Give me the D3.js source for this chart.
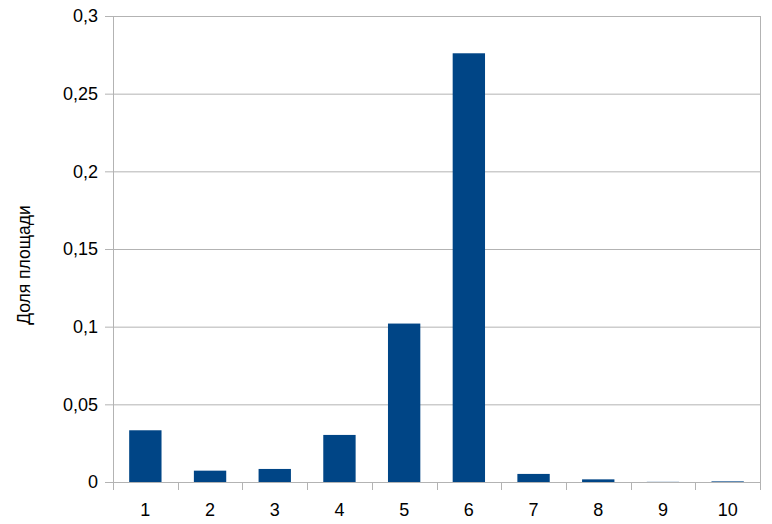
<!DOCTYPE html>
<html><head><meta charset="utf-8">
<script src="https://cdn.jsdelivr.net/npm/d3@7"></script>
<style>body{margin:0;background:#fff}svg{display:block}</style>
</head><body>
<svg id="c" width="772" height="524"></svg>
<script>
const categories = ["1","2","3","4","5","6","7","8","9","10"];
const values = [0.0333, 0.0073, 0.0084, 0.0303, 0.102, 0.276, 0.0052, 0.0017, 0.0001, 0.0004];
const yTicks = [0, 0.05, 0.1, 0.15, 0.2, 0.25, 0.3];
const yTitle = "Доля площади";

const svg = d3.select("#c");
const L = 113, R = 760, T = 16, B = 482;
const x = d3.scaleBand().domain(categories).range([L, R]).paddingInner(0.5).paddingOuter(0.25);
const y = d3.scaleLinear().domain([0, 0.3]).range([B, T]);
const fmt = d => String(d).replace(".", ",");
const grid = "#b3b3b3";
const font = "Liberation Sans, Arial, sans-serif";

// gridlines
svg.append("g").selectAll("line").data(yTicks).join("line")
  .attr("x1", L - 8).attr("x2", R).attr("y1", d => y(d) + 0.5).attr("y2", d => y(d) + 0.5)
  .attr("stroke", grid).attr("stroke-width", 1);
// left & right vertical lines
svg.append("line").attr("x1", L + 0.5).attr("x2", L + 0.5).attr("y1", T).attr("y2", B + 8).attr("stroke", grid);
svg.append("line").attr("x1", R + 0.5).attr("x2", R + 0.5).attr("y1", T).attr("y2", B + 8).attr("stroke", grid);
// category boundary ticks
const bounds = categories.map(c => x(c) - x.step() * x.paddingInner() / 2);
svg.append("g").selectAll("line").data(bounds.slice(1)).join("line")
  .attr("x1", d => Math.round(d) + 0.5).attr("x2", d => Math.round(d) + 0.5)
  .attr("y1", B).attr("y2", B + 8).attr("stroke", grid);

// bars
svg.append("g").selectAll("rect").data(values).join("rect")
  .attr("x", (d, i) => x(categories[i]))
  .attr("width", x.bandwidth())
  .attr("y", d => y(d))
  .attr("height", d => B - y(d))
  .attr("fill", "#004586");

// y labels
svg.append("g").selectAll("text").data(yTicks).join("text")
  .attr("x", 98).attr("y", d => y(d)).attr("dy", "0.35em")
  .attr("text-anchor", "end").attr("font-family", font).attr("font-size", 18)
  .attr("fill", "#000").text(fmt);
// x labels
svg.append("g").selectAll("text").data(categories).join("text")
  .attr("x", d => x(d) + x.bandwidth() / 2).attr("y", 510).attr("dy", "0.35em")
  .attr("text-anchor", "middle").attr("font-family", font).attr("font-size", 18)
  .attr("fill", "#000").text(d => d);
// y title
svg.append("text").attr("transform", "translate(30,265) rotate(-90)")
  .attr("text-anchor", "middle").attr("font-family", font).attr("font-size", 17.5)
  .attr("fill", "#000").text(yTitle);
</script>
</body></html>
